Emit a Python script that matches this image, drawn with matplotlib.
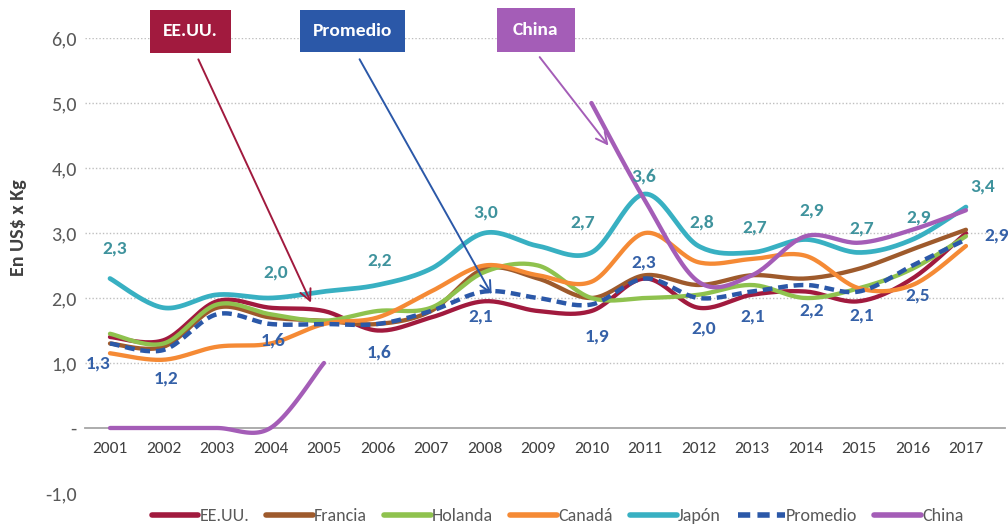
import numpy as np
import matplotlib
matplotlib.use("Agg")
import matplotlib.pyplot as plt
from matplotlib import font_manager
from matplotlib.patches import Rectangle
from matplotlib.ticker import FuncFormatter

names = {f.name for f in font_manager.fontManager.ttflist}
fam = "Liberation Sans"
for cand in ["Carlito", "Liberation Sans Narrow", "Archivo Narrow", "Roboto Condensed"]:
    if cand in names:
        fam = cand
        break
plt.rcParams["font.family"] = [fam, "DejaVu Sans"]

years = list(range(2001, 2018))
nan = np.nan

usa     = [1.4, 1.35, 1.95, 1.85, 1.8, 1.5, 1.7, 1.95, 1.8, 1.8, 2.3, 1.85, 2.05, 2.1, 1.95, 2.3, 3.0]
francia = [1.3, 1.25, 1.85, 1.7, 1.65, 1.6, 1.8, 2.45, 2.3, 2.0, 2.35, 2.2, 2.35, 2.3, 2.45, 2.75, 3.05]
holanda = [1.45, 1.3, 1.9, 1.75, 1.65, 1.8, 1.85, 2.4, 2.5, 2.0, 2.0, 2.05, 2.2, 2.0, 2.15, 2.45, 2.95]
canada  = [1.15, 1.05, 1.25, 1.3, 1.6, 1.7, 2.1, 2.5, 2.35, 2.25, 3.0, 2.55, 2.6, 2.65, 2.15, 2.2, 2.8]
japon   = [2.3, 1.85, 2.05, 2.0, 2.1, 2.2, 2.45, 3.0, 2.8, 2.7, 3.6, 2.8, 2.7, 2.9, 2.7, 2.9, 3.4]
promedio = [1.3, 1.2, 1.75, 1.6, 1.6, 1.6, 1.8, 2.1, 2.0, 1.9, 2.3, 2.0, 2.1, 2.2, 2.1, 2.5, 2.9]
china   = [0, 0, 0, 0, 1.0, nan, nan, nan, nan, 5.0, 3.5, 2.25, 2.35, 2.95, 2.85, 3.05, 3.35]

# which years carry a data label
japon_lbl = [1, 0, 0, 1, 0, 1, 0, 1, 0, 1, 1, 1, 1, 1, 1, 1, 1]
prom_lbl  = [1, 1, 0, 1, 0, 1, 0, 1, 0, 1, 1, 1, 1, 1, 1, 1, 1]
# label offsets in pixels (dx, dy)
japon_off = [(5, 30), None, None, (5, 25), None, (2, 25), None, (1, 21), None, (-9, 30),
             (-1, 17), (3, 24), (3, 25), (6, 29), (3, 24), (6, 22), (17, 20)]
prom_off = [(-12, -20), (3, -28), None, (3, -16), None, (2, -28), None, (-4, -25), None, (6, -32),
            (-1, 16), (5, -30), (1, -25), (6, -25), (3, -24), (5, -30), (31, 4)]

c_usa = "#A11A3E"
c_fra = "#9E5A2C"
c_hol = "#8FC24E"
c_can = "#F58A35"
c_jap = "#38B0C2"
c_pro = "#2B58A8"
c_chi = "#A45DB7"


def smooth(x, y, n=24):
    # excel-like smoothed line (bezier through the points)
    x = np.asarray(x, float)
    y = np.asarray(y, float)
    if len(x) < 2:
        return x, y
    xp = np.concatenate([[x[0]], x, [x[-1]]])
    yp = np.concatenate([[y[0]], y, [y[-1]]])
    t = np.linspace(0, 1, n)
    ox, oy = [], []
    for i in range(len(x) - 1):
        p0 = np.array([xp[i], yp[i]])
        p1 = np.array([x[i], y[i]])
        p2 = np.array([x[i + 1], y[i + 1]])
        p3 = np.array([xp[i + 3], yp[i + 3]])
        c1 = p1 + (p2 - p0) / 6
        c2 = p2 - (p3 - p1) / 6
        b = ((1 - t) ** 3)[:, None] * p1 + (3 * (1 - t) ** 2 * t)[:, None] * c1 \
            + (3 * (1 - t) * t ** 2)[:, None] * c2 + (t ** 3)[:, None] * p2
        if i > 0:
            b = b[1:]
        ox.extend(b[:, 0])
        oy.extend(b[:, 1])
    return np.array(ox), np.array(oy)


def draw(ax, x, y, label, **kw):
    x = np.asarray(x, float)
    y = np.asarray(y, float)
    ok = ~np.isnan(y)
    first = True
    i = 0
    while i < len(y):
        if not ok[i]:
            i += 1
            continue
        j = i
        while j < len(y) and ok[j]:
            j += 1
        sx, sy = smooth(x[i:j], y[i:j])
        ax.plot(sx, sy, label=label if first else None, **kw)
        first = False
        i = j


fig = plt.figure(figsize=(10.08, 5.28), dpi=100)
ax = fig.add_axes([85 / 1008, 1 - 493 / 528, 920 / 1008, 455 / 528])

lw = 3.1
draw(ax, years, usa, "EE.UU.", color=c_usa, lw=lw, zorder=3, solid_capstyle="round")
draw(ax, years, francia, "Francia", color=c_fra, lw=lw, zorder=3, solid_capstyle="round")
draw(ax, years, holanda, "Holanda", color=c_hol, lw=lw, zorder=3, solid_capstyle="round")
draw(ax, years, canada, "Canadá", color=c_can, lw=lw, zorder=3, solid_capstyle="round")
draw(ax, years, japon, "Japón", color=c_jap, lw=3.4, zorder=3, solid_capstyle="round")
draw(ax, years, promedio, "Promedio", color=c_pro, lw=3.2, ls=(0, (2.2, 1.3)), zorder=5,
     dash_capstyle="butt")
draw(ax, years, china, "China", color=c_chi, lw=lw, zorder=4, solid_capstyle="round")


def fmt(v):
    return f"{v:.1f}".replace(".", ",")


for yr, v, show, off in zip(years, japon, japon_lbl, japon_off):
    if show:
        ax.annotate(fmt(v), (yr, v), xytext=off, textcoords="offset pixels",
                    ha="center", va="center", fontsize=14, fontweight="bold",
                    color="#3F939D", zorder=6)
for yr, v, show, off in zip(years, promedio, prom_lbl, prom_off):
    if show:
        ax.annotate(fmt(v), (yr, v), xytext=off, textcoords="offset pixels",
                    ha="center", va="center", fontsize=14, fontweight="bold",
                    color="#3561A8", zorder=6)

# callout boxes (x0, x1, y0, y1) with arrows
callouts = [
    ("EE.UU.", c_usa, (2001.75, 2003.26, 5.77, 6.43), (2002.63, 5.71), (2004.78, 1.89)),
    ("Promedio", c_pro, (2004.55, 2006.51, 5.78, 6.43), (2005.64, 5.71), (2008.16, 2.02)),
    ("China", c_chi, (2008.23, 2009.69, 5.78, 6.46), (2009.0, 5.74), (2010.35, 4.31)),
]
for txt, col, (x0, x1, y0, y1), a0, a1 in callouts:
    ax.add_patch(Rectangle((x0, y0), x1 - x0, y1 - y0, fc=col, ec="none", zorder=8,
                           clip_on=False))
    ax.text((x0 + x1) / 2, (y0 + y1) / 2, txt, ha="center", va="center", color="white",
            fontsize=14, fontweight="bold", zorder=9, clip_on=False)
    ax.annotate("", xy=a1, xytext=a0, zorder=7, annotation_clip=False,
                arrowprops=dict(arrowstyle="->,head_length=0.8,head_width=0.4",
                                color=col, lw=1.4))

ax.set_xlim(2000.533, 2017.73)
ax.set_ylim(-1, 6)
ax.set_xticks(years)
ax.set_xticklabels([str(y) for y in years])
ax.set_yticks([-1, 0, 1, 2, 3, 4, 5, 6])
ax.yaxis.set_major_formatter(FuncFormatter(lambda v, p: "-" if abs(v) < 1e-9 else fmt(v)))

for s in ["top", "right", "left"]:
    ax.spines[s].set_visible(False)
ax.spines["bottom"].set_position(("data", 0))
ax.spines["bottom"].set_color("#A6A6A6")
ax.spines["bottom"].set_linewidth(1.3)
ax.spines["bottom"].set_zorder(2)

ax.tick_params(axis="x", length=0, pad=10, labelsize=12.5, labelcolor="#404040")
ax.tick_params(axis="y", length=0, pad=6, labelsize=14.5, labelcolor="#595959")

ax.grid(axis="y", color="#BFBFBF", ls=(0, (1, 1.5)), lw=1.0, zorder=0)
ax.grid(axis="x", visible=False)
ax.get_ygridlines()[0].set_visible(False)
ax.get_ygridlines()[1].set_visible(False)

fig.text(19 / 1008, 1 - 228 / 528, "En US$ x Kg", rotation=90, ha="center", va="center",
         fontsize=14.5, fontweight="bold", color="#404040")

handles, labels = ax.get_legend_handles_labels()
leg = fig.legend(handles, labels, loc="center", bbox_to_anchor=(0.553, 1 - 516 / 528),
                 ncol=7, frameon=False, fontsize=13, handlelength=2.6,
                 handletextpad=0.05, columnspacing=0.95)
for t in leg.get_texts():
    t.set_color("#595959")
for h in leg.get_lines():
    h.set_linewidth(4)

fig.savefig("out.png", dpi=100)
